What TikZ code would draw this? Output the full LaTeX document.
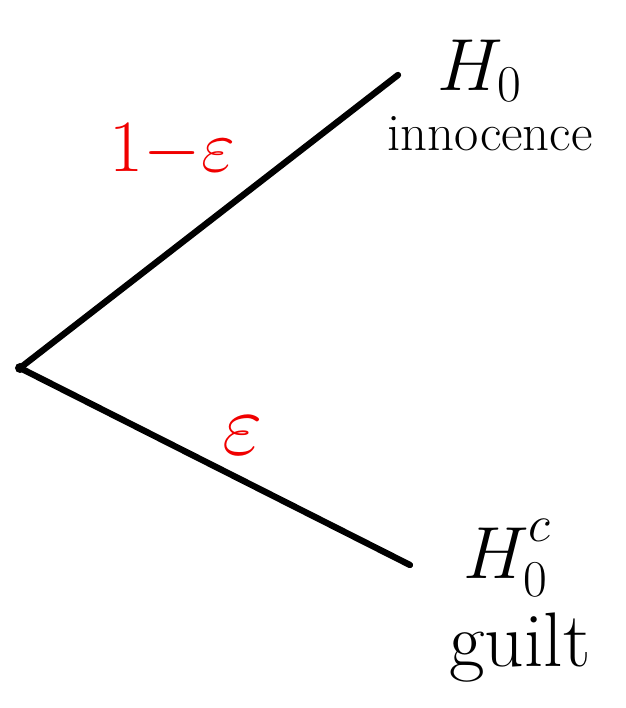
\RequirePackage{fix-cm}
\documentclass[tikz,border=0pt]{standalone}
\usepackage{amsmath}
\usepackage{tikz}
\usetikzlibrary{positioning}
\definecolor{probc}{RGB}{240,0,0}
\tikzset{
  branch/.style={line width=3.6pt,black,line cap=round,line join=round},
  prob/.style={text=probc,inner sep=0pt,font=\fontsize{42}{46}\selectfont},
  hyp/.style={inner sep=0pt,font=\fontsize{42}{46}\selectfont},
  outcome/.style={inner sep=0pt,font=\fontsize{30}{34}\selectfont},
}

\begin{document}
\begin{tikzpicture}
  \useasboundingbox (0,0) rectangle (12.52,14.16);
  % tree ends
  \coordinate (root) at (0.4,6.8);
  \coordinate (up) at (7.96,12.66);
  \coordinate (down) at (8.2,2.86);
  \fill (root) circle (0.1);
  \draw[branch] (root) -- (up);
  \draw[branch] (root) -- (down);
  % probabilities
  \node[prob] (pinno) at (3.45,11.15) {$1{-}\varepsilon$};
  \node[prob,font=\fontsize{50}{54}\selectfont] (pguilt) at (4.85,5.45) {$\varepsilon$};
  % hypotheses
  \node[hyp] (H) at (9.6,12.75) {$H_0$};
  \node[outcome,below=3mm of H.south,xshift=2mm] (inno) {innocence};
  \node[hyp] (Hc) at (10.15,3.0) {$H^{\raisebox{2mm}{$\scriptstyle c$}}_{0}$};
  \node[hyp,font=\fontsize{44}{48}\selectfont] (guilt) at (10.4,1.2) {guilt};
\end{tikzpicture}
\end{document}
